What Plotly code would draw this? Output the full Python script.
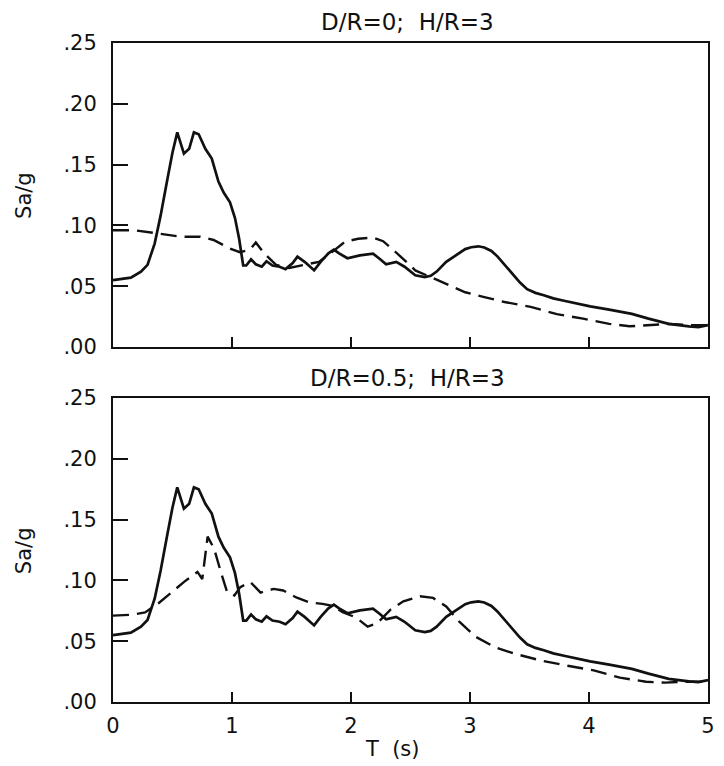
import plotly.graph_objects as go
from plotly.subplots import make_subplots

# Free-field (solid) spectrum, same in both panels
T_solid = [0, 0.15, 0.235, 0.29, 0.35, 0.40, 0.457, 0.5, 0.54, 0.596, 0.64, 0.68, 0.72, 0.776,
           0.83, 0.886, 0.93, 0.983, 1.025, 1.06, 1.094, 1.12, 1.16, 1.2, 1.25, 1.29, 1.34, 1.4,
           1.45, 1.51, 1.55, 1.61, 1.69, 1.745, 1.81, 1.856, 1.9, 1.97, 2.075, 2.185, 2.24, 2.295,
           2.38, 2.45, 2.54, 2.62, 2.67, 2.72, 2.8, 2.9, 2.96, 3.01, 3.07, 3.12, 3.18, 3.23, 3.29,
           3.35, 3.42, 3.48, 3.55, 3.62, 3.7, 3.79, 3.9, 4.01, 4.17, 4.28, 4.36, 4.5, 4.67, 4.84,
           4.92, 5.0]
Sa_solid = [0.055, 0.057, 0.062, 0.0675, 0.085, 0.108, 0.138, 0.16, 0.1765, 0.159, 0.163, 0.1765,
            0.175, 0.163, 0.155, 0.136, 0.127, 0.119, 0.106, 0.089, 0.067, 0.067, 0.072, 0.068,
            0.066, 0.0705, 0.067, 0.066, 0.064, 0.069, 0.0743, 0.070, 0.063, 0.070, 0.077, 0.080,
            0.077, 0.073, 0.0753, 0.0767, 0.0726, 0.068, 0.070, 0.066, 0.059, 0.0575, 0.0585,
            0.062, 0.070, 0.077, 0.0805, 0.082, 0.0828, 0.0818, 0.079, 0.0745, 0.068,
            0.061, 0.053, 0.0475, 0.0445, 0.0425, 0.040, 0.038, 0.0355, 0.0334, 0.0307, 0.029,
            0.0272, 0.0233, 0.019, 0.017, 0.0164, 0.018]

# Dashed: D/R=0; H/R=3
T_dash0 = [0, 0.18, 0.374, 0.568, 0.734, 0.845, 0.983, 1.066, 1.15, 1.2, 1.27, 1.37, 1.48, 1.62,
           1.73, 1.84, 1.95, 2.06, 2.185, 2.27, 2.41, 2.54, 2.67, 2.79, 2.96, 3.12, 3.29, 3.51,
           3.73, 3.95, 4.17, 4.34, 4.5, 4.67, 4.84, 5.0]
Sa_dash0 = [0.096, 0.096, 0.0934, 0.0907, 0.0907, 0.088, 0.081, 0.078, 0.080, 0.086, 0.077,
            0.0675, 0.065, 0.0675, 0.070, 0.078, 0.0866, 0.089, 0.090, 0.087, 0.075, 0.063,
            0.0575, 0.052, 0.045, 0.041, 0.037, 0.033, 0.027, 0.0233, 0.019, 0.017, 0.018,
            0.019, 0.018, 0.018]

# Dashed: D/R=0.5; H/R=3
T_dash05 = [0, 0.158, 0.27, 0.38, 0.49, 0.6, 0.71, 0.75, 0.795, 0.85, 0.906, 0.96, 1.02, 1.07,
            1.155, 1.24, 1.35, 1.43, 1.54, 1.65, 1.76, 1.85, 1.93, 2.04, 2.14, 2.22, 2.33, 2.44,
            2.58, 2.69, 2.8, 2.91, 3.05, 3.21, 3.38, 3.6, 3.82, 4.04, 4.26, 4.48, 4.64, 4.81, 5.0]
Sa_dash05 = [0.071, 0.0718, 0.0737, 0.081, 0.090, 0.099, 0.107, 0.101, 0.136, 0.126, 0.107,
             0.090, 0.0876, 0.0945, 0.0986, 0.090, 0.093, 0.0917, 0.086, 0.082, 0.0807, 0.079,
             0.0738, 0.0696, 0.062, 0.0647, 0.0758, 0.0828, 0.087, 0.0856, 0.0786, 0.066,
             0.0535, 0.045, 0.0396, 0.034, 0.0298, 0.026, 0.020, 0.0167, 0.0159, 0.0167, 0.0167]

titles = ["D/R=0;  H/R=3", "D/R=0.5;  H/R=3"]
y_ticks = [0, 0.05, 0.10, 0.15, 0.20, 0.25]
y_ticktext = [".00", ".05", ".10", ".15", ".20", ".25"]
x_ticks = [0, 1, 2, 3, 4, 5]
x_ticktext = ["0", "1", "2", "3", "4", "5"]

FONT = "DejaVu Sans"
INK = "#111111"

fig = make_subplots(rows=2, cols=1, shared_xaxes=False, vertical_spacing=0.0775)

dash_sets = [(T_dash0, Sa_dash0), (T_dash05, Sa_dash05)]
for i, (td, sd) in enumerate(dash_sets, start=1):
    fig.add_trace(go.Scatter(x=T_solid, y=Sa_solid, mode="lines",
                             line=dict(color=INK, width=2.7), showlegend=False), row=i, col=1)
    fig.add_trace(go.Scatter(x=td, y=sd, mode="lines",
                             line=dict(color=INK, width=2.4, dash="16px,8px"),
                             showlegend=False), row=i, col=1)

for i in (1, 2):
    fig.update_xaxes(row=i, col=1, range=[0, 5], showline=True, linecolor=INK, linewidth=2,
                     mirror=True, ticks="inside", ticklen=10, tickwidth=1.5, tickcolor=INK,
                     tickvals=x_ticks, ticktext=x_ticktext, showgrid=False, zeroline=False,
                     showticklabels=(i == 2), ticklabelstandoff=4,
                     tickfont=dict(family=FONT, size=21, color=INK))
    fig.update_yaxes(row=i, col=1, range=[0, 0.25], showline=True, linecolor=INK, linewidth=2,
                     mirror=True, ticks="inside", ticklen=15, tickwidth=1.5, tickcolor=INK,
                     tickvals=y_ticks, ticktext=y_ticktext, showgrid=False, zeroline=False,
                     ticklabelstandoff=10,
                     tickfont=dict(family=FONT, size=21, color=INK))

fig.update_layout(
    width=724, height=766,
    margin=dict(l=113, r=9, t=43, b=64),
    paper_bgcolor="white", plot_bgcolor="white",
    font=dict(family=FONT, color=INK),
)

# Panel titles
fig.add_annotation(text=titles[0], xref="paper", yref="paper", x=0.495, y=1.0, yshift=21,
                   xanchor="center", yanchor="middle",
                   showarrow=False, font=dict(family=FONT, size=23, color=INK))
fig.add_annotation(text=titles[1], xref="paper", yref="paper", x=0.495, y=0.4583, yshift=22,
                   xanchor="center", yanchor="middle",
                   showarrow=False, font=dict(family=FONT, size=23, color=INK))
# y-axis titles
fig.add_annotation(text="Sa/g", xref="paper", yref="paper", x=-0.1495, y=0.768, textangle=-90,
                   xanchor="center", yanchor="middle",
                   showarrow=False, font=dict(family=FONT, size=21, color=INK))
fig.add_annotation(text="Sa/g", xref="paper", yref="paper", x=-0.1495, y=0.229, textangle=-90,
                   xanchor="center", yanchor="middle",
                   showarrow=False, font=dict(family=FONT, size=21, color=INK))
# x-axis title
fig.add_annotation(text="T  (s)", xref="paper", yref="paper", x=0.47, y=0, yshift=-47,
                   xanchor="center", yanchor="middle",
                   showarrow=False, font=dict(family=FONT, size=21, color=INK))

fig.write_html("out.html")
